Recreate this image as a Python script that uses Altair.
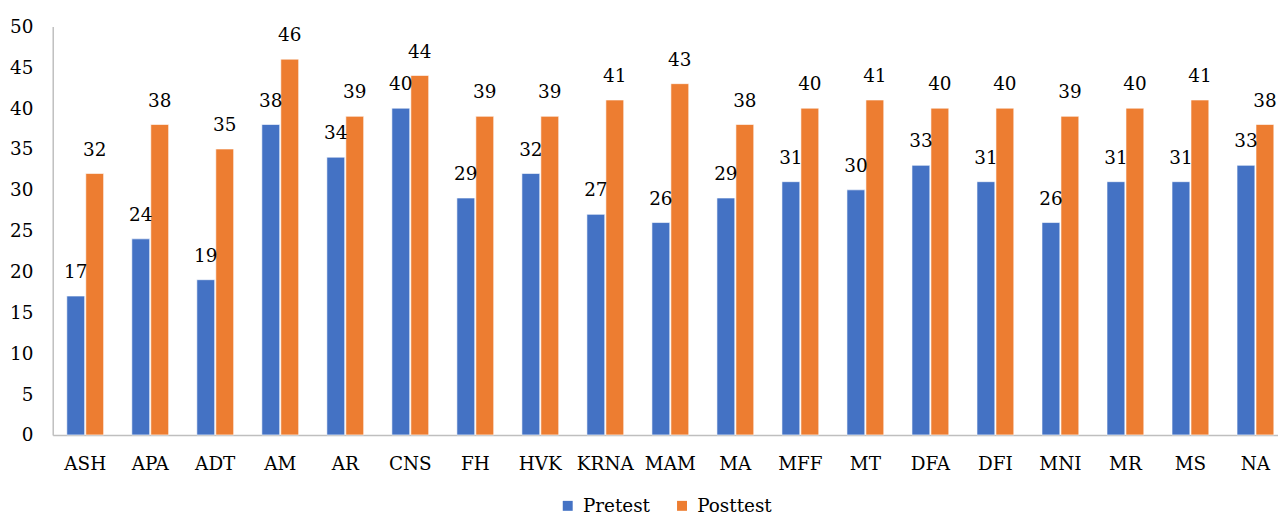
import altair as alt
import pandas as pd

categories = ["ASH", "APA", "ADT", "AM", "AR", "CNS", "FH", "HVK", "KRNA", "MAM",
              "MA", "MFF", "MT", "DFA", "DFI", "MNI", "MR", "MS", "NA"]
pretest = [17, 24, 19, 38, 34, 40, 29, 32, 27, 26, 29, 31, 30, 33, 31, 26, 31, 31, 33]
posttest = [32, 38, 35, 46, 39, 44, 39, 39, 41, 43, 38, 40, 41, 40, 40, 39, 40, 41, 38]
series = ["Pretest", "Posttest"]
colors = ["#4472C4", "#ED7D31"]
y_ticks = [0, 5, 10, 15, 20, 25, 30, 35, 40, 45, 50]

rows = []
for i, c in enumerate(categories):
    rows.append({"cat": c, "series": "Pretest", "value": pretest[i]})
    rows.append({"cat": c, "series": "Posttest", "value": posttest[i]})
df = pd.DataFrame(rows)

FONT = "DejaVu Serif"
FS = 18.5

base = alt.Chart(df).encode(
    x=alt.X("cat:N", sort=categories,
            scale=alt.Scale(paddingInner=0.434, paddingOuter=0.217),
            axis=alt.Axis(title=None, labelAngle=0, labelFont=FONT, labelFontSize=FS,
                          labelColor="black", labelBaseline="alphabetic", labelPadding=35,
                          ticks=False, tickSize=0, domainColor="#bfbfbf", domainWidth=1.5,
                          grid=False)),
    xOffset=alt.XOffset("series:N", sort=series, scale=alt.Scale(paddingInner=0.06)),
    y=alt.Y("value:Q", scale=alt.Scale(domain=[0, 50]),
            axis=alt.Axis(title=None, values=y_ticks, labelFont=FONT, labelFontSize=FS,
                          labelColor="black", labelPadding=20, ticks=False, tickSize=0,
                          domainColor="#bfbfbf", domainWidth=1.5, grid=False)),
)

bars = base.mark_bar(stroke="white", strokeWidth=0.6).encode(
    color=alt.Color("series:N", sort=series,
                    scale=alt.Scale(domain=series, range=colors),
                    legend=alt.Legend(title=None, orient="none", legendX=509, legendY=473,
                                      direction="horizontal", symbolType="square",
                                      symbolSize=100, symbolStrokeWidth=0,
                                      labelFont=FONT, labelFontSize=FS, labelColor="black",
                                      labelOffset=6, columnPadding=22, padding=0))
)

labels = base.mark_text(dy=-18, baseline="alphabetic", font=FONT, fontSize=FS,
                        color="black").encode(text=alt.Text("value:Q"))

chart = alt.layer(bars, labels).properties(
    width=1243, height=411,
    autosize="none",
    padding={"left": 45, "top": 17, "right": -10, "bottom": 81},
    background="white",
).configure_view(stroke=None)

chart.save("out.html", embed_options={"renderer": "svg", "actions": False})
